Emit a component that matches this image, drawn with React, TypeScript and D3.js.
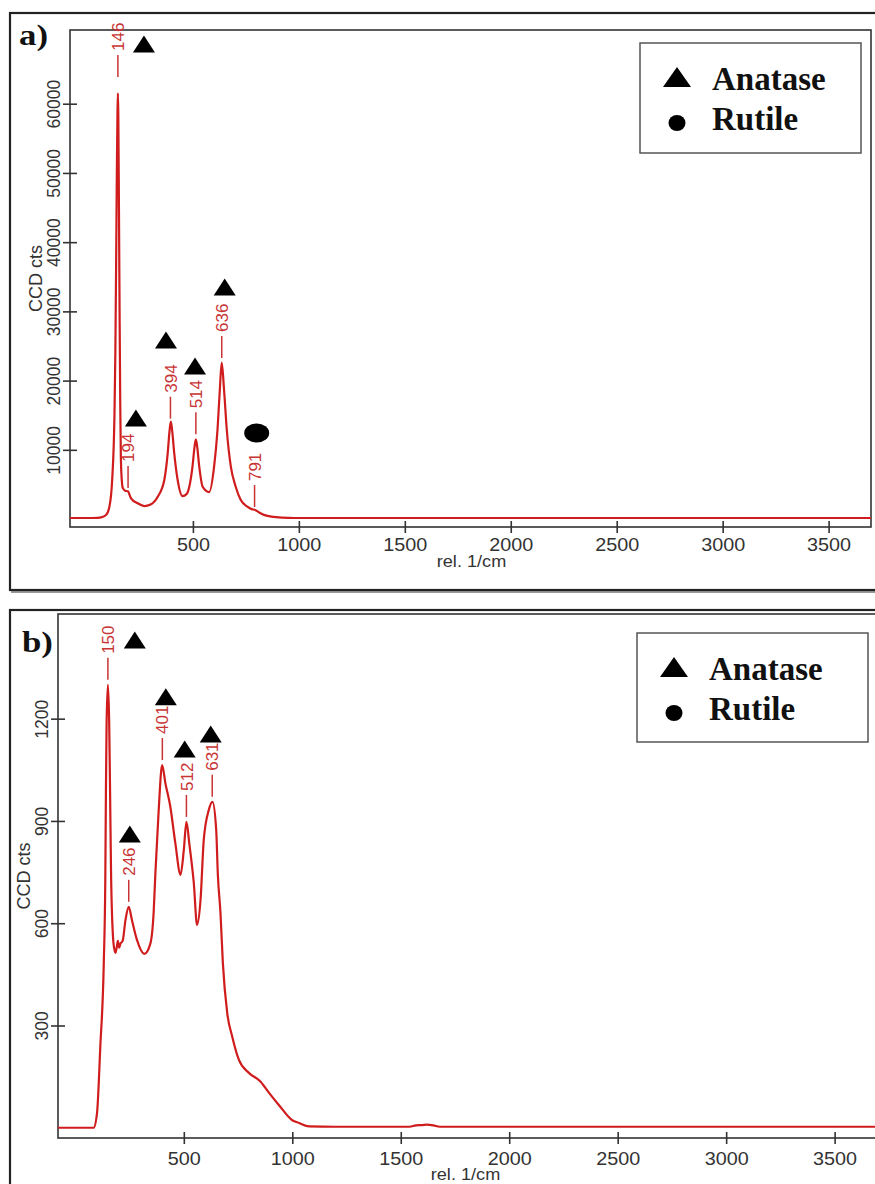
import React, { useEffect, useRef } from "react";
import * as d3 from "d3";

const W = 875;
const H = 1184;

// ---------- shared ----------
const X_DOMAIN: [number, number] = [-80, 3700];
const X_TICKS = [500, 1000, 1500, 2000, 2500, 3000, 3500];
const X_TITLE = "rel. 1/cm";
const Y_TITLE = "CCD cts";
const LEGEND_ITEMS = ["Anatase", "Rutile"];

// ---------- panel a ----------
const spectrumA: [number, number][] = [
  [-80, 150], [0, 150], [50, 180], [67, 240], [90, 580], [106, 1780], [119, 5640],
  [130, 15300], [134, 24000], [138, 38000], [141, 50000], [144, 58500], [146, 61500],
  [148, 58500], [151, 45000], [154, 30000], [157, 17000], [160, 9000], [164, 5800],
  [169, 4500], [180, 4100], [193, 4000], [208, 3000], [240, 2270], [271, 1880],
  [300, 2100], [334, 3220], [365, 5640], [381, 9490], [390, 12800], [396, 14060],
  [402, 12800], [412, 9490], [428, 5640], [451, 3320], [470, 3600], [483, 4670],
  [498, 7560], [508, 10500], [514, 11510], [520, 10500], [530, 7560], [546, 4670],
  [577, 3900], [600, 7560], [616, 12860], [627, 18640], [636, 22590], [647, 18640],
  [660, 12860], [679, 7560], [702, 4670], [726, 2750], [757, 1780], [780, 1400],
  [791, 1350], [810, 1000], [835, 600], [870, 350], [920, 200], [980, 150],
  [1500, 150], [2500, 150], [3700, 150],
];
const peakPosA = [146, 194, 394, 514, 636, 791];
const peakValA = [63440, 4050, 14060, 11800, 22830, 1300];
const anataseA: [number, number][] = [[269, 68640], [231, 14600], [373, 25870], [510, 22110], [650, 33530]];
const rutileA: [number, number][] = [[801, 12430]];
const yTicksA = [10000, 20000, 30000, 40000, 50000, 60000];

// ---------- panel b ----------
const spectrumB: [number, number][] = [
  [-80, 0], [0, 0], [84, 0], [100, 44], [115, 238], [131, 483], [138, 727], [141, 991],
  [144, 1187], [150, 1299], [156, 1187], [160, 991], [165, 727], [177, 534], [185, 513],
  [191, 530], [196, 548], [202, 528], [208, 540], [218, 548], [231, 609], [246, 648],
  [261, 609], [284, 551], [318, 510], [346, 541], [361, 633], [369, 747], [384, 930],
  [400, 1064], [415, 1011], [438, 941], [461, 834], [485, 742], [500, 815], [512, 897],
  [526, 830], [546, 718], [561, 595], [577, 668], [592, 845], [615, 932], [632, 956],
  [649, 877], [657, 741], [669, 630], [680, 483], [700, 337], [723, 268], [754, 199],
  [800, 161], [853, 136], [892, 103], [938, 67], [1000, 22], [1031, 14], [1077, 4],
  [1200, 3], [1400, 3], [1540, 3], [1570, 7], [1600, 8], [1620, 9], [1650, 7],
  [1680, 3], [2000, 3], [2500, 3], [3000, 3], [3700, 3],
];
const peakPosB = [150, 246, 401, 512, 631];
const peakValB = [1305, 654, 1070, 903, 962];
const anataseB: [number, number][] = [[274, 1431], [251, 862], [417, 1264], [504, 1111], [624, 1155]];
const rutileB: [number, number][] = [];
const yTicksB = [300, 600, 900, 1200];

const RED = "#d01c1c";
const LABEL_RED = "#c83434";
const AXIS = "#333";
const SANS = "'Liberation Sans', Arial, sans-serif";
const SERIF = "'Liberation Serif', 'Times New Roman', serif";

type Panel = {
  id: string;
  letter: string;
  letterX: number;
  letterY: number;
  outer: [number, number, number, number];
  left: number;
  right: number;
  top: number;
  bottom: number;
  yDomain: [number, number];
  yTicks: number[];
  spectrum: [number, number][];
  peakPos: number[];
  peakVal: number[];
  anatase: [number, number][];
  rutile: [number, number][];
  tickLabelOffset: number;
  xTitleY: number;
  legend: [number, number, number, number];
};

const panels: Panel[] = [
  {
    id: "a", letter: "a)", letterX: 19, letterY: 45,
    outer: [10, 13, 890, 590],
    left: 70, right: 871, top: 30, bottom: 527,
    yDomain: [-1150, 70650], yTicks: yTicksA, spectrum: spectrumA,
    peakPos: peakPosA, peakVal: peakValA, anatase: anataseA, rutile: rutileA,
    tickLabelOffset: 11, xTitleY: 567,
    legend: [640, 43, 861, 153],
  },
  {
    id: "b", letter: "b)", letterX: 22, letterY: 652,
    outer: [10, 610, 890, 1200],
    left: 58, right: 878, top: 614, bottom: 1138,
    yDomain: [-30, 1507], yTicks: yTicksB, spectrum: spectrumB,
    peakPos: peakPosB, peakVal: peakValB, anatase: anataseB, rutile: rutileB,
    tickLabelOffset: 14, xTitleY: 1180,
    legend: [637, 633, 868, 742],
  },
];

function triPath(w: number, h: number) {
  return `M0,${-h / 2}L${w / 2},${h / 2}L${-w / 2},${h / 2}Z`;
}

function drawPanel(svg: d3.Selection<SVGSVGElement, unknown, null, undefined>, p: Panel) {
  const x = d3.scaleLinear().domain(X_DOMAIN).range([p.left, p.right]);
  const y = d3.scaleLinear().domain(p.yDomain).range([p.bottom, p.top]);
  const g = svg.append("g");

  const [ox1, oy1, ox2, oy2] = p.outer;
  // shadow
  g.append("rect").attr("x", ox1 + 2).attr("y", oy1 + 2).attr("width", ox2 - ox1).attr("height", oy2 - oy1)
    .attr("fill", "none").attr("stroke", "#999").attr("stroke-width", 2);
  g.append("rect").attr("x", ox1).attr("y", oy1).attr("width", ox2 - ox1).attr("height", oy2 - oy1)
    .attr("fill", "#fff").attr("stroke", "#222").attr("stroke-width", 2.2);

  // plot frame
  g.append("rect").attr("x", p.left).attr("y", p.top).attr("width", p.right - p.left).attr("height", p.bottom - p.top)
    .attr("fill", "#fff").attr("stroke", AXIS).attr("stroke-width", 1.6);

  // letter
  g.append("text").attr("transform", `translate(${p.letterX},${p.letterY}) scale(1.2,1)`)
    .attr("font-family", SERIF).attr("font-weight", "bold").attr("font-size", 29).attr("fill", "#111")
    .text(p.letter);

  // clip
  const clipId = `clip-${p.id}`;
  svg.append("defs").append("clipPath").attr("id", clipId).append("rect")
    .attr("x", p.left).attr("y", p.top).attr("width", p.right - p.left).attr("height", p.bottom - p.top);

  // spectrum
  const line = d3.line<[number, number]>().x((d) => x(d[0])).y((d) => y(d[1])).curve(d3.curveMonotoneX);
  g.append("path").datum(p.spectrum).attr("d", line).attr("fill", "none").attr("stroke", RED)
    .attr("stroke-width", 2.2).attr("stroke-linejoin", "round").attr("clip-path", `url(#${clipId})`);

  // peak labels
  p.peakPos.forEach((pos, i) => {
    const px = x(pos);
    const py = y(p.peakVal[i]);
    g.append("line").attr("x1", px).attr("x2", px).attr("y1", py - 3).attr("y2", py - 25)
      .attr("stroke", LABEL_RED).attr("stroke-width", 1.5);
    g.append("text").attr("transform", `translate(${px},${py - 29}) rotate(-90)`).attr("dy", "0.36em")
      .attr("text-anchor", "start").attr("font-family", SANS).attr("font-size", 17).attr("fill", LABEL_RED)
      .text(String(pos));
  });

  // markers
  g.selectAll(null).data(p.anatase).join("path")
    .attr("d", triPath(22, 17)).attr("transform", (d) => `translate(${x(d[0])},${y(d[1])})`).attr("fill", "#000");
  g.selectAll(null).data(p.rutile).join("ellipse")
    .attr("cx", (d) => x(d[0])).attr("cy", (d) => y(d[1])).attr("rx", 12.5).attr("ry", 9.5).attr("fill", "#000");

  // x axis
  const gx = g.append("g").attr("transform", `translate(0,${p.bottom})`)
    .call(d3.axisBottom(x).tickValues(X_TICKS).tickSizeOuter(0).tickFormat(d3.format("d")));
  gx.select(".domain").remove();
  gx.attr("font-family", SANS).attr("font-size", 18);
  gx.selectAll(".tick line").attr("y1", -6).attr("y2", 6).attr("stroke", AXIS).attr("stroke-width", 1.6);
  gx.selectAll(".tick text").attr("y", p.tickLabelOffset).attr("dy", "0.71em").attr("fill", "#333")
    .attr("transform", "scale(1.1,1)");

  // y axis
  const gy = g.append("g").attr("transform", `translate(${p.left},0)`)
    .call(d3.axisLeft(y).tickValues(p.yTicks).tickSizeOuter(0).tickFormat(d3.format("d")));
  gy.select(".domain").remove();
  gy.attr("font-family", SANS).attr("font-size", 17.5);
  gy.selectAll(".tick line").attr("x1", 7).attr("x2", -7).attr("stroke", AXIS).attr("stroke-width", 1.6);
  gy.selectAll(".tick text").attr("x", 0).attr("dy", "0.36em").attr("text-anchor", "middle").attr("fill", "#333")
    .attr("transform", "translate(-16.5,0) rotate(-90)");

  // titles
  g.append("text").attr("transform", `translate(${(p.left + Math.min(p.right, 871)) / 2 + 1},${p.xTitleY}) scale(1.1,1)`)
    .attr("text-anchor", "middle").attr("font-family", SANS).attr("font-size", 16.5).attr("fill", "#333")
    .text(X_TITLE);
  g.append("text").attr("transform", `translate(${p.left - 34.5},${(p.top + p.bottom) / 2}) rotate(-90)`)
    .attr("dy", "0.36em").attr("text-anchor", "middle").attr("font-family", SANS).attr("font-size", 18)
    .attr("fill", "#333").text(Y_TITLE);

  // legend
  const [lx1, ly1, lx2, ly2] = p.legend;
  g.append("rect").attr("x", lx1).attr("y", ly1).attr("width", lx2 - lx1).attr("height", ly2 - ly1)
    .attr("fill", "#fff").attr("stroke", "#555").attr("stroke-width", 1.5);
  g.append("path").attr("d", triPath(28, 20)).attr("transform", `translate(${lx1 + 37},${ly1 + 34})`).attr("fill", "#000");
  g.append("ellipse").attr("cx", lx1 + 37).attr("cy", ly1 + 80).attr("rx", 8.5).attr("ry", 8).attr("fill", "#000");
  LEGEND_ITEMS.forEach((t, i) => {
    g.append("text").attr("x", lx1 + 72).attr("y", ly1 + 47 + i * 40)
      .attr("font-family", SERIF).attr("font-weight", "bold").attr("font-size", 33).attr("fill", "#111").text(t);
  });
}

export default function App() {
  const ref = useRef<SVGSVGElement>(null);
  useEffect(() => {
    if (!ref.current) return;
    const svg = d3.select(ref.current);
    svg.selectAll("*").remove();
    panels.forEach((p) => drawPanel(svg, p));
  }, []);
  return (
    <svg
      ref={ref}
      width={W}
      height={H}
      viewBox={`0 0 ${W} ${H}`}
      style={{ position: "absolute", left: 0, top: 0, background: "#fff" }}
    />
  );
}
